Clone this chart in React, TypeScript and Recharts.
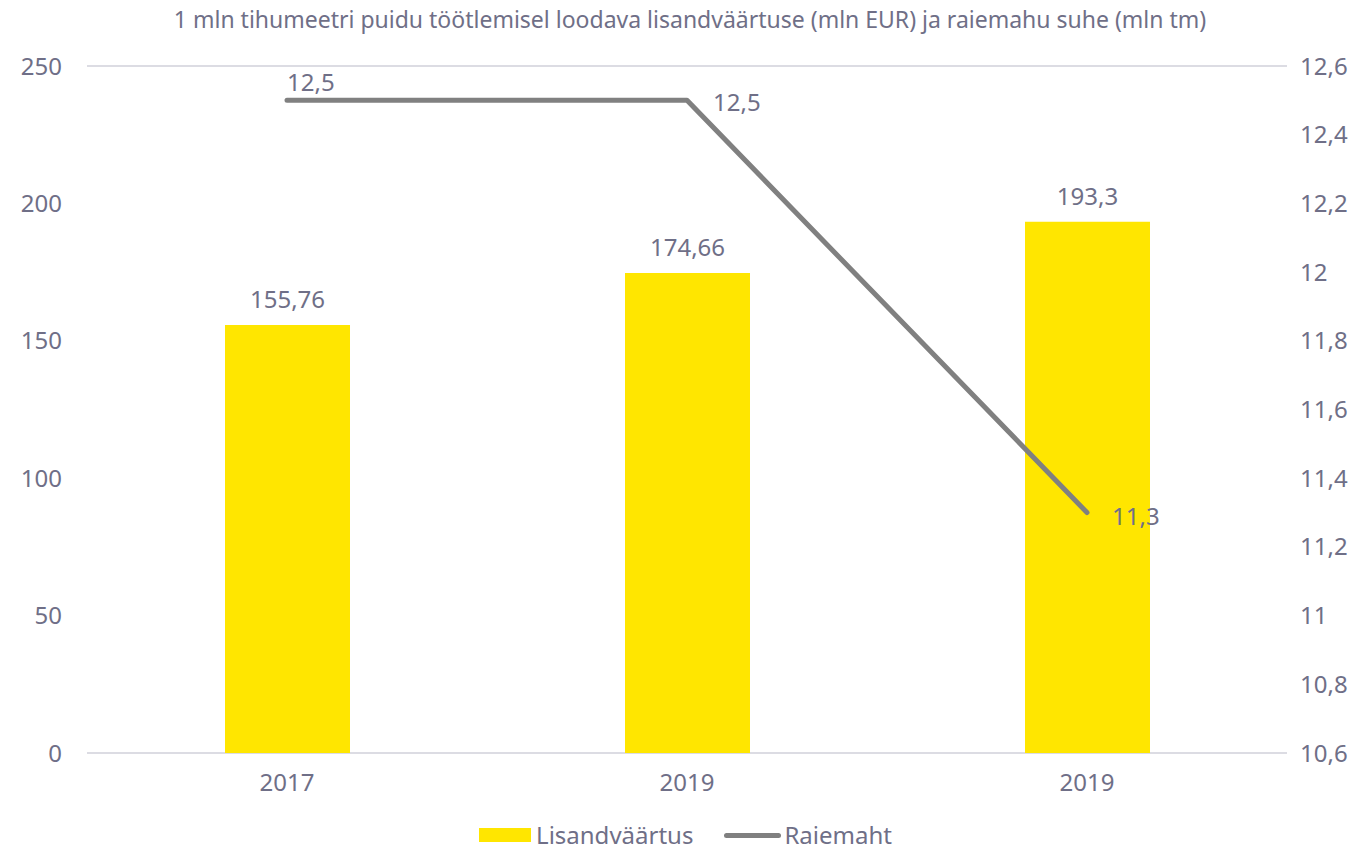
import {
  Bar,
  ComposedChart,
  XAxis,
  YAxis,
  Line,
  CartesianGrid,
  LabelList,
  Legend,
} from "recharts";

const years = ["2017", "2019", "2019"];
const lisandvaartus = [155.76, 174.66, 193.3];
const raiemaht = [12.5, 12.5, 11.3];
const leftTicks = [0, 50, 100, 150, 200, 250];
const rightTicks = [10.6, 10.8, 11, 11.2, 11.4, 11.6, 11.8, 12, 12.2, 12.4, 12.6];

const data = years.map((year, i) => ({
  i,
  year,
  lisandvaartus: lisandvaartus[i],
  raiemaht: raiemaht[i],
}));

const TEXT = "#6f6f87";
const FONT = "'Noto Sans', sans-serif";
const SIZE = 24;
const fmt = (v: number) => String(v).replace(".", ",");

// per-point offsets for the line labels, as in the original
const lineLabelOffsets = [
  { dx: 0, dy: -9 },
  { dx: 26, dy: 11 },
  { dx: 25, dy: 12 },
];

const LineLabel = (props: any) => {
  const { x, y, value, index } = props;
  const o = lineLabelOffsets[index] || { dx: 0, dy: 0 };
  return (
    <text x={x + o.dx} y={y + o.dy} fill={TEXT} fontSize={SIZE} fontFamily={FONT} textAnchor="start">
      {fmt(value)}
    </text>
  );
};

const legendContent = () => (
  <div
    style={{
      display: "flex",
      justifyContent: "center",
      alignItems: "center",
      height: 46,
      paddingTop: 18,
      boxSizing: "border-box",
      fontFamily: FONT,
      fontSize: 24,
      lineHeight: "26px",
      color: TEXT,
      paddingLeft: 4,
    }}
  >
    <span style={{ display: "inline-block", width: 52, height: 14, background: "#FFE600", marginRight: 5 }} />
    <span style={{ marginRight: 31 }}>Lisandväärtus</span>
    <span style={{ display: "inline-block", width: 57, height: 5, borderRadius: 3, background: "#808080", marginRight: 3 }} />
    <span>Raiemaht</span>
  </div>
);

export default function App() {
  return (
    <div style={{ position: "absolute", left: 0, top: 0, width: 1367, height: 849, background: "#fff" }}>
      <div
        style={{
          position: "absolute",
          top: 3,
          left: 0,
          width: 1380,
          textAlign: "center",
          fontFamily: FONT,
          fontSize: 23,
          color: TEXT,
          zIndex: 1,
        }}
      >
        1 mln tihumeetri puidu töötlemisel loodava lisandväärtuse (mln EUR) ja raiemahu suhe (mln tm)
      </div>
      <ComposedChart
        width={1367}
        height={849}
        data={data}
        margin={{ top: 66, right: 0, left: 0, bottom: 0 }}
        barSize={125}
      >
        <CartesianGrid vertical={false} stroke="#dcdce3" strokeWidth={2} />
        <XAxis
          dataKey="i"
          tickFormatter={(i: number) => years[i]}
          axisLine={false}
          tickLine={false}
          tickSize={0}
          tickMargin={21}
          height={50}
          tick={{ fill: TEXT, fontSize: SIZE, fontFamily: FONT }}
        />
        <YAxis
          yAxisId="left"
          orientation="left"
          domain={[0, 250]}
          ticks={leftTicks}
          width={87}
          axisLine={false}
          tickLine={false}
          tickSize={0}
          tickMargin={25}
          tick={{ fill: TEXT, fontSize: SIZE, fontFamily: FONT }}
        />
        <YAxis
          yAxisId="right"
          orientation="right"
          domain={[10.6, 12.6]}
          ticks={rightTicks}
          tickFormatter={fmt}
          width={80}
          axisLine={false}
          tickLine={false}
          tickSize={0}
          tickMargin={13}
          tick={{ fill: TEXT, fontSize: SIZE, fontFamily: FONT }}
        />
        <Legend verticalAlign="bottom" height={46} content={legendContent} />
        <Bar yAxisId="left" dataKey="lisandvaartus" fill="#FFE600" isAnimationActive={false}>
          <LabelList
            dataKey="lisandvaartus"
            position="top"
            offset={17}
            formatter={(v: any) => fmt(v)}
            fill={TEXT}
            fontSize={SIZE}
            fontFamily={FONT}
          />
        </Bar>
        <Line
          yAxisId="right"
          type="linear"
          dataKey="raiemaht"
          stroke="#808080"
          strokeWidth={5}
          strokeLinecap="round"
          strokeLinejoin="round"
          dot={false}
          activeDot={false}
          isAnimationActive={false}
        >
          <LabelList dataKey="raiemaht" content={LineLabel} />
        </Line>
      </ComposedChart>
    </div>
  );
}
